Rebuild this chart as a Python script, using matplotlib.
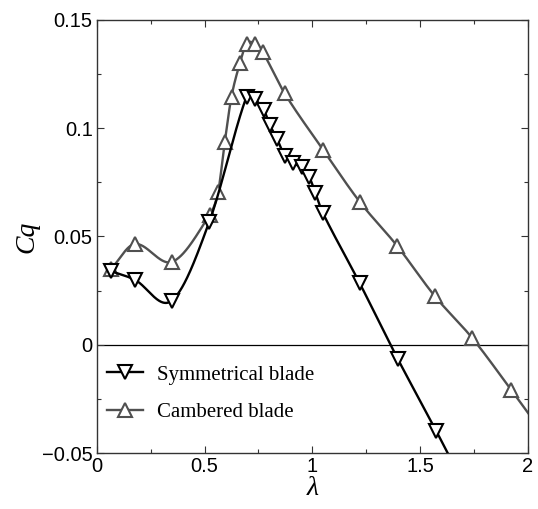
import numpy as np
import matplotlib
matplotlib.use('Agg')
import matplotlib.pyplot as plt
from matplotlib.ticker import MultipleLocator, FixedLocator, FixedFormatter

# Symmetrical blade (last point is off-axis continuation)
lam_sym = [0.065, 0.176, 0.347, 0.522, 0.695, 0.733, 0.775, 0.803, 0.837, 0.872,
           0.911, 0.950, 0.985, 1.014, 1.048, 1.220, 1.398, 1.576, 1.750]
cq_sym = [0.0340, 0.0300, 0.0203, 0.0568, 0.1146, 0.1133, 0.1084, 0.1015, 0.0949, 0.0872,
          0.0838, 0.0819, 0.0776, 0.0702, 0.0610, 0.0284, -0.0068, -0.0400, -0.0735]

# Cambered blade
lam_cam = [0.065, 0.176, 0.350, 0.524, 0.563, 0.594, 0.625, 0.664, 0.695, 0.733,
           0.769, 0.872, 1.050, 1.220, 1.394, 1.568, 1.743, 1.924, 2.100]
cq_cam = [0.0348, 0.0465, 0.0383, 0.0600, 0.0707, 0.0938, 0.1146, 0.1300, 0.1390, 0.1390,
          0.1353, 0.1160, 0.0900, 0.0660, 0.0456, 0.0225, 0.0030, -0.0210, -0.0450]

xticks = [0, 0.5, 1, 1.5, 2]
xtick_labels = ['0', '0.5', '1', '1.5', '2']
yticks = [-0.05, 0, 0.05, 0.1, 0.15]
ytick_labels = ['\u22120.05', '0', '0.05', '0.1', '0.15']


def smooth(x, y, n=800):
    # cubic hermite with centred slopes through the measured points, only for drawing
    x = np.asarray(x, float)
    y = np.asarray(y, float)
    h = np.diff(x)
    d = np.diff(y) / h
    m = np.zeros(len(x))
    m[0], m[-1] = d[0], d[-1]
    m[1:-1] = (y[2:] - y[:-2]) / (x[2:] - x[:-2])
    xs = np.linspace(x[0], x[-1], n)
    k = np.clip(np.searchsorted(x, xs) - 1, 0, len(x) - 2)
    t = (xs - x[k]) / h[k]
    h00 = 2 * t ** 3 - 3 * t ** 2 + 1
    h10 = t ** 3 - 2 * t ** 2 + t
    h01 = -2 * t ** 3 + 3 * t ** 2
    h11 = t ** 3 - t ** 2
    ys = h00 * y[k] + h10 * h[k] * m[k] + h01 * y[k + 1] + h11 * h[k] * m[k + 1]
    return xs, ys


fig = plt.figure(figsize=(5.38, 5.09), dpi=100)
ax = fig.add_axes([0.180, 0.110, 0.801, 0.851])

ax.axhline(0, color='black', lw=0.9, zorder=1)

c_sym = 'black'
c_cam = '#505050'
mk = dict(ms=10, mfc='white', mew=1.5)

xs, ys = smooth(lam_sym, cq_sym)
ax.plot(xs, ys, color=c_sym, lw=1.7, zorder=3)
ax.plot(lam_sym, cq_sym, ls='none', marker='v', mec=c_sym, zorder=4, **mk)

xs, ys = smooth(lam_cam, cq_cam)
ax.plot(xs, ys, color=c_cam, lw=1.7, zorder=2)
ax.plot(lam_cam, cq_cam, ls='none', marker='^', mec=c_cam, zorder=2.5, **mk)

# legend proxies
h1, = ax.plot([], [], color=c_sym, lw=1.7, marker='v', mec=c_sym, label='Symmetrical blade', **mk)
h2, = ax.plot([], [], color=c_cam, lw=1.7, marker='^', mec=c_cam, label='Cambered blade', **mk)
ax.legend(handles=[h1, h2], loc='upper left', bbox_to_anchor=(-0.02, 0.246), frameon=False,
          prop={'family': 'Liberation Serif', 'size': 15}, handlelength=1.75,
          labelspacing=0.85, handletextpad=0.65)

ax.set_xlim(0, 2)
ax.set_ylim(-0.05, 0.15)
ax.xaxis.set_major_locator(FixedLocator(xticks))
ax.xaxis.set_major_formatter(FixedFormatter(xtick_labels))
ax.yaxis.set_major_locator(FixedLocator(yticks))
ax.yaxis.set_major_formatter(FixedFormatter(ytick_labels))
ax.xaxis.set_minor_locator(MultipleLocator(0.25))
ax.yaxis.set_minor_locator(MultipleLocator(0.025))
ax.tick_params(which='both', direction='in', top=True, right=True, width=0.8, color='#333333')
ax.tick_params(which='major', length=5, labelsize=14.5, pad=3)
ax.tick_params(which='minor', length=3)
for lab in ax.get_xticklabels() + ax.get_yticklabels():
    lab.set_family('Liberation Sans')
for s in ax.spines.values():
    s.set_linewidth(1.0)
    s.set_color('#333333')

ax.set_xlabel('\u03bb', family='Liberation Serif', style='italic', fontsize=20, labelpad=0)
ax.set_ylabel('Cq', family='Liberation Serif', style='italic', fontsize=20, labelpad=2)

fig.savefig('out.png', dpi=100)
